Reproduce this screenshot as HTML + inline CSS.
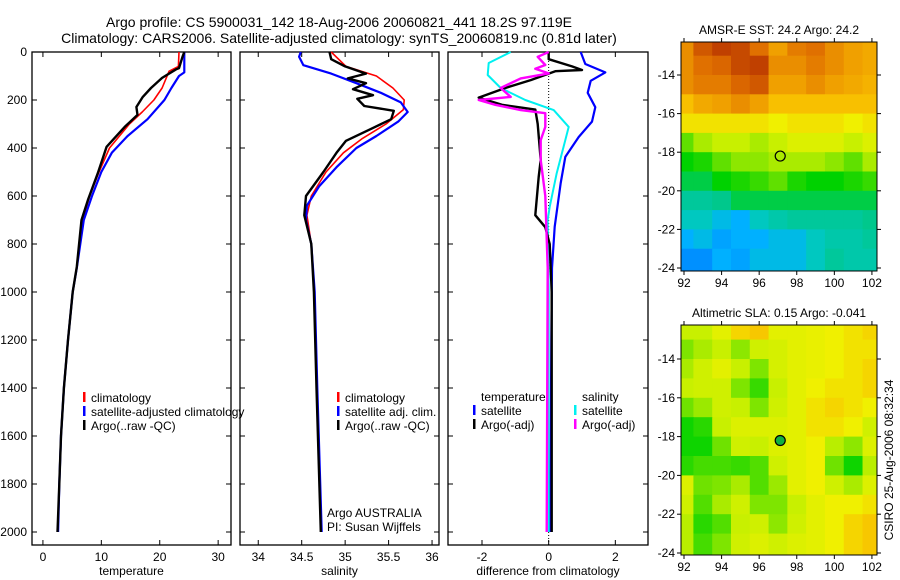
<!DOCTYPE html>
<html><head><meta charset="utf-8">
<style>
html,body{margin:0;padding:0;background:#fff;}
svg{display:block;font-family:"Liberation Sans",sans-serif;}
text{font-size:12px;fill:#000;}
text.ttl{font-size:14px;}
</style></head>
<body>
<svg id="fig" width="900" height="580" viewBox="0 0 900 580">
<text class="ttl" x="339" y="27" text-anchor="middle">Argo profile: CS 5900031_142 18-Aug-2006 20060821_441 18.2S 97.119E</text>
<text class="ttl" x="339" y="43" text-anchor="middle">Climatology: CARS2006. Satellite-adjusted climatology: synTS_20060819.nc (0.81d later)</text>
<text x="0" y="0" transform="translate(893,460) rotate(-90)" text-anchor="middle">CSIRO 25-Aug-2006 08:32:34</text>
</svg>
<script>
// ---------- data ----------
const depthTicks=[0,200,400,600,800,1000,1200,1400,1600,1800,2000];
const tempTicks=[0,10,20,30];
const salTicks=[34,34.5,35,35.5,36];
const diffTicks=[-2,0,2];
const lonTicks=[92,94,96,98,100,102];
const latTicks=[14,16,18,20,22,24];

const tArgoD=[0,20,67,72,108,150,187,229,262,312,395,505,617,700,895,1000,1200,1400,1600,1800,2000];
const tArgoV=[24.2,23.9,23.3,22.8,20.4,18.5,17.1,16.0,16.2,14.0,10.9,9.4,7.7,6.6,5.8,5.1,4.3,3.6,3.1,2.8,2.5];
const tClimD=[0,60,80,150,200,250,300,400,500,600,700,900,1000,1200,1400,1600,1800,2000];
const tClimV=[23.3,23.2,21.6,20.4,19.0,17.0,14.8,11.4,9.6,8.0,6.8,5.8,5.1,4.3,3.6,3.1,2.8,2.5];
const tSatD=[0,85,100,150,200,280,350,420,500,600,700,900,1000,1200,1400,1600,1800,2000];
const tSatV=[24.2,24.2,23.3,22.0,20.8,17.9,14.5,11.8,10.0,8.4,7.0,5.8,5.1,4.3,3.6,3.1,2.8,2.6];

const sArgoD=[0,30,60,90,110,130,155,180,195,225,245,280,320,370,420,500,600,680,800,1000,1400,2000];
const sArgoV=[34.82,34.84,35.0,35.24,35.03,35.24,35.09,35.32,35.14,35.22,35.56,35.53,35.3,35.01,34.9,34.75,34.55,34.53,34.61,34.64,34.67,34.72];
const sClimD=[0,60,100,150,200,240,300,360,420,500,600,680,800,1000,1400,2000];
const sClimV=[34.84,35.01,35.36,35.55,35.68,35.67,35.47,35.2,34.98,34.78,34.61,34.56,34.61,34.64,34.67,34.72];
const sSatD=[0,20,55,90,130,170,210,250,290,350,400,480,560,640,700,800,1000,1400,2000];
const sSatV=[34.49,34.47,34.52,34.84,35.13,35.41,35.64,35.72,35.61,35.36,35.13,34.9,34.7,34.56,34.55,34.61,34.65,34.68,34.73];

const dTSatD=[0,50,85,120,170,230,290,354,437,546,728,900,1200,2000];
const dTSatV=[0.96,1.1,1.7,1.26,1.17,1.4,1.3,0.9,0.5,0.36,0.18,0.1,0.08,0.05];
const dTArgoD=[0,30,60,75,80,117,150,190,220,240,300,350,450,520,680,730,800,1000,2000];
const dTArgoV=[0,0,0.7,1.0,0.2,-0.54,-1.3,-2.1,-1.4,-0.4,-0.33,-0.3,-0.24,-0.3,-0.4,-0.1,0.03,0.09,0.09];
const dSSatD=[0,46,96,150,200,242,312,367,505,645,700,1000,2000];
const dSSatV=[-1.14,-1.8,-1.83,-1.44,-0.7,0.15,0.6,0.5,0.24,0.03,-0.03,0,0];
const dSArgoD=[0,20,54,70,89,110,150,187,200,220,242,255,312,367,450,600,900,2000];
const dSArgoV=[0,-0.33,-0.1,-0.4,0,-0.84,-1.44,-1.14,-2.1,-1.6,-0.84,-0.1,-0.1,-0.24,-0.24,-0.1,-0.03,-0.06];

const mapLons=[92,93,94,95,96,97,98,99,100,101,102];
const mapLats=[12.5,13.5,14.5,15.5,16.5,17.5,18.5,19.5,20.5,21.5,22.5,23.5];
const sstGrid=[
[0.75,0.85,0.9,0.88,0.8,0.72,0.78,0.8,0.75,0.72,0.7],
[0.75,0.8,0.82,0.88,0.9,0.75,0.75,0.78,0.75,0.72,0.7],
[0.75,0.78,0.78,0.82,0.85,0.72,0.72,0.75,0.72,0.7,0.68],
[0.65,0.7,0.72,0.75,0.72,0.65,0.65,0.65,0.65,0.65,0.65],
[0.6,0.6,0.6,0.6,0.6,0.58,0.6,0.6,0.6,0.58,0.6],
[0.45,0.5,0.52,0.52,0.5,0.52,0.55,0.55,0.55,0.52,0.55],
[0.38,0.4,0.45,0.48,0.48,0.5,0.5,0.5,0.48,0.45,0.5],
[0.35,0.35,0.38,0.4,0.42,0.45,0.4,0.38,0.38,0.4,0.42],
[0.3,0.3,0.32,0.35,0.35,0.35,0.35,0.35,0.35,0.35,0.35],
[0.25,0.25,0.22,0.2,0.25,0.28,0.3,0.3,0.3,0.3,0.32],
[0.2,0.22,0.18,0.2,0.2,0.22,0.22,0.25,0.28,0.28,0.3],
[0.15,0.15,0.2,0.18,0.22,0.22,0.22,0.25,0.3,0.28,0.28]];
const slaGrid=[
[0.52,0.52,0.56,0.62,0.64,0.56,0.56,0.57,0.58,0.6,0.62],
[0.47,0.5,0.52,0.48,0.53,0.54,0.56,0.57,0.58,0.6,0.6],
[0.5,0.53,0.56,0.52,0.47,0.54,0.56,0.57,0.58,0.6,0.62],
[0.52,0.53,0.53,0.47,0.42,0.52,0.56,0.58,0.6,0.6,0.62],
[0.46,0.49,0.53,0.52,0.47,0.53,0.56,0.6,0.62,0.6,0.58],
[0.39,0.41,0.52,0.55,0.55,0.55,0.56,0.6,0.6,0.58,0.53],
[0.39,0.39,0.46,0.53,0.52,0.55,0.56,0.58,0.51,0.48,0.55],
[0.41,0.43,0.43,0.42,0.44,0.53,0.56,0.58,0.46,0.39,0.51],
[0.55,0.46,0.47,0.5,0.44,0.49,0.56,0.58,0.53,0.5,0.55],
[0.53,0.44,0.5,0.53,0.47,0.47,0.52,0.56,0.58,0.58,0.6],
[0.51,0.41,0.44,0.52,0.53,0.48,0.53,0.56,0.58,0.62,0.64],
[0.51,0.43,0.47,0.53,0.55,0.53,0.55,0.56,0.58,0.62,0.64]];
const floatLon=97.12, floatLat=18.2;

// ---------- rendering ----------
const NS="http://www.w3.org/2000/svg";
const svg=document.getElementById('fig');
function mk(tag,attrs,parent){const e=document.createElementNS(NS,tag);for(const k in attrs)e.setAttribute(k,attrs[k]);(parent||svg).appendChild(e);return e;}

const Y0=52,Y1=545;
const yD=d=>Y0+0.24*d;

function panel(name,x0,x1,xmin,xmax,ticks,label,fmt){
  const g=mk('g',{});
  
  
  const sx=v=>x0+(v-xmin)/(xmax-xmin)*(x1-x0);
  const r=mk('rect',{x:x0,y:Y0,width:x1-x0,height:Y1-Y0,fill:'none',stroke:'#000','stroke-width':1.3},g);
  
  
  ticks.forEach(t=>{
    const X=sx(t);
    mk('line',{x1:X,x2:X,y1:Y1,y2:Y1-5,stroke:'#000'},g);
    mk('line',{x1:X,x2:X,y1:Y0,y2:Y0+5,stroke:'#000'},g);
    const tx=mk('text',{x:X,y:Y1+16,'text-anchor':'middle'},g);
    tx.textContent=fmt?fmt(t):t;
    
    
  });
  depthTicks.forEach(d=>{
    mk('line',{x1:x0,x2:x0+5,y1:yD(d),y2:yD(d),stroke:'#000'},g);
    mk('line',{x1:x1,x2:x1-5,y1:yD(d),y2:yD(d),stroke:'#000'},g);
  });
  const xl=mk('text',{x:(x0+x1)/2,y:575,'text-anchor':'middle'},g);
  xl.textContent=label;
  
  
  return {g,sx};
}
function series(p,D,V,color,w,name){
  const pts=D.map((d,i)=>p.sx(V[i]).toFixed(1)+','+yD(d).toFixed(1)).join(' ');
  const l=mk('polyline',{points:pts,fill:'none',stroke:color,'stroke-width':w,'stroke-linejoin':'round'},p.g);
  
  
}
function legend(g,x,y,items){
  items.forEach((it,i)=>{
    const yy=y+i*14;
    if(it[1]) mk('rect',{x:x,y:yy-10,width:2.5,height:10,fill:it[1]},g);
    const t=mk('text',{x:x+8,y:yy},g);
    t.textContent=it[0];
    
    
  });
}

depthTicks.forEach(d=>{
  const t=mk('text',{x:27,y:yD(d)+4,'text-anchor':'end'});
  t.textContent=d;
  
  
});

const p1=panel('temperature-panel',32,231,-1.87,32.2,tempTicks,'temperature');
series(p1,tClimD,tClimV,'#ff0000',1.6,'temp-climatology-line');
series(p1,tSatD,tSatV,'#0000ff',2.2,'temp-satellite-line');
series(p1,tArgoD,tArgoV,'#000000',2.4,'temp-argo-line');
legend(p1.g,83,402,[['climatology','#ff0000'],['satellite-adjusted climatology','#0000ff'],['Argo(..raw -QC)','#000']]);

const p2=panel('salinity-panel',240,439,33.79,36.08,salTicks,'salinity');
series(p2,sClimD,sClimV,'#ff0000',1.6,'sal-climatology-line');
series(p2,sSatD,sSatV,'#0000ff',2.2,'sal-satellite-line');
series(p2,sArgoD,sArgoV,'#000000',2.4,'sal-argo-line');
legend(p2.g,337,402,[['climatology','#ff0000'],['satellite adj. clim.','#0000ff'],['Argo(..raw -QC)','#000']]);
legend(p2.g,319,517,[['Argo AUSTRALIA',null],['PI: Susan Wijffels',null]]);

const p3=panel('difference-panel',448,648,-3.02,2.98,diffTicks,'difference from climatology');
const zx=p3.sx(0);
const zl=mk('line',{x1:zx,x2:zx,y1:Y0,y2:Y1,stroke:'#000','stroke-dasharray':'1,2'},p3.g);


series(p3,dTSatD,dTSatV,'#0000ff',2.2,'dtemp-satellite-line');
series(p3,dSSatD,dSSatV,'#00f0f0',2,'dsal-satellite-line');
series(p3,dTArgoD,dTArgoV,'#000000',2.4,'dtemp-argo-line');
series(p3,dSArgoD,dSArgoV,'#ff00ff',2.4,'dsal-argo-line');
legend(p3.g,473,401,[['temperature',null],['satellite','#0000ff'],['Argo(-adj)','#000']]);
legend(p3.g,574,401,[['salinity',null],['satellite','#00f0f0'],['Argo(-adj)','#ff00ff']]);

const stops=[[0.1,[0,112,255]],[0.2,[0,176,255]],[0.25,[0,200,192]],[0.32,[0,200,140]],[0.38,[0,210,0]],[0.45,[96,224,0]],[0.52,[200,240,0]],[0.58,[240,240,0]],[0.65,[248,192,0]],[0.72,[240,160,0]],[0.8,[224,112,0]],[0.9,[192,64,0]]];
function cmap(v){
  if(v<=stops[0][0])return 'rgb('+stops[0][1]+')';
  for(let i=1;i<stops.length;i++){if(v<=stops[i][0]){const a=stops[i-1],b=stops[i],f=(v-a[0])/(b[0]-a[0]);return 'rgb('+a[1].map((c,k)=>Math.round(c+f*(b[1][k]-c))).join(',')+')';}}
  return 'rgb('+stops[stops.length-1][1]+')';
}
function mapPanel(name,title,grid,top,bottom,lat14,lat24,filled){
  const g=mk('g',{});
  
  
  const x0=681,x1=877,lonMin=91.84,lonMax=102.27;
  const sx=l=>x0+(l-lonMin)/(lonMax-lonMin)*(x1-x0);
  const sy=l=>lat14+(l-14)/10*(lat24-lat14);
  grid.forEach((row,i)=>row.forEach((v,j)=>{
    const xa=Math.max(x0,sx(mapLons[j]-0.5)),xb=Math.min(x1,sx(mapLons[j]+0.5));
    const ya=Math.max(top,sy(mapLats[i]-0.5)),yb=Math.min(bottom,sy(mapLats[i]+0.5+(i==mapLats.length-1?1:0)));
    const c=mk('rect',{x:xa,y:ya,width:xb-xa+0.5,height:yb-ya+0.5,fill:cmap(v)},g);
    
    
  }));
  mk('rect',{x:x0,y:top,width:x1-x0,height:bottom-top,fill:'none',stroke:'#000'},g);
  lonTicks.forEach(l=>{
    const X=sx(l);
    mk('line',{x1:X,x2:X,y1:bottom,y2:bottom+4,stroke:'#000'},g);
    mk('line',{x1:X,x2:X,y1:top,y2:top-4,stroke:'#000'},g);
    const t=mk('text',{x:X,y:bottom+16,'text-anchor':'middle'},g);t.textContent=l;
    
    
  });
  latTicks.forEach(l=>{
    const Y=sy(l);
    mk('line',{x1:x0,x2:x0-4,y1:Y,y2:Y,stroke:'#000'},g);
    mk('line',{x1:x1,x2:x1+4,y1:Y,y2:Y,stroke:'#000'},g);
    const t=mk('text',{x:x0-6,y:Y+4,'text-anchor':'end'},g);t.textContent='-'+l;
    
    
  });
  const tt=mk('text',{x:(x0+x1)/2,y:top-8,'text-anchor':'middle'},g);tt.textContent=title;
  
  
  const m=mk('circle',{cx:sx(floatLon),cy:sy(floatLat),r:5,fill:filled?'#10b040':'none',stroke:'#000','stroke-width':1.2},g);
  
  
}
mapPanel('sst-map','AMSR-E SST: 24.2 Argo: 24.2',sstGrid,42,271,75,268,false);
mapPanel('sla-map','Altimetric SLA: 0.15 Argo: -0.041',slaGrid,325,555,359,553,true);
</script>
</body></html>
